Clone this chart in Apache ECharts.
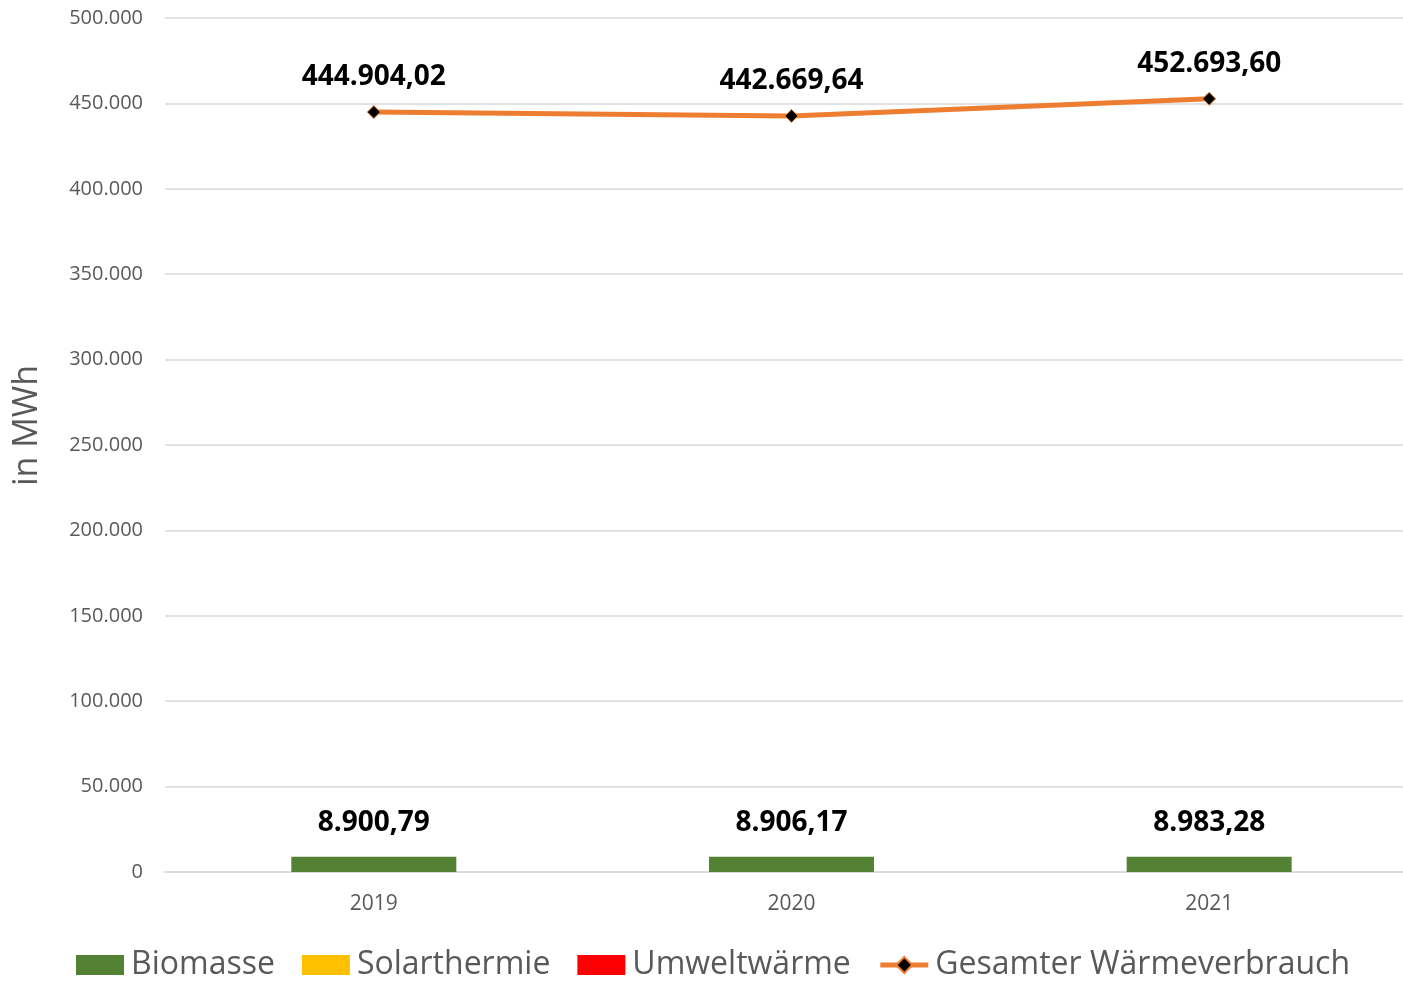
<!DOCTYPE html>
<html><head><meta charset="utf-8">
<script src="https://cdn.jsdelivr.net/npm/echarts@6/dist/echarts.min.js"></script>
<style>html,body{margin:0;padding:0;background:#fff;overflow:hidden;width:1403px;height:982px}#c{width:1418px;height:982px}</style>
</head><body><div id="c"></div>
<script>
const categories = ['2019', '2020', '2021'];
const biomasse = [8900.79, 8906.17, 8983.28];
const solarthermie = [0, 0, 0];
const umweltwaerme = [0, 0, 0];
const gesamt = [444904.02, 442669.64, 452693.60];
const yTicks = [0, 50000, 100000, 150000, 200000, 250000, 300000, 350000, 400000, 450000, 500000];
const yAxisTitle = 'in MWh';

function de(v, dec) {
  const parts = v.toFixed(dec).split('.');
  parts[0] = parts[0].replace(/\B(?=(\d{3})+(?!\d))/g, '.');
  return parts.length > 1 ? parts[0] + ',' + parts[1] : parts[0];
}
const chart = echarts.init(document.getElementById('c'), null, {renderer: 'canvas'});
const lblStyle = {show: true, fontFamily: 'Open Sans', fontWeight: 'bold', fontSize: 28, color: '#000'};
chart.setOption({
  animation: false,
  textStyle: {fontFamily: 'Open Sans'},
  grid: {left: 165, right: 0, top: 18, bottom: 110, containLabel: false},
  graphic: [{
    type: 'text', left: 10, top: 365,
    style: {text: yAxisTitle, fill: '#595959', font: '34px "Open Sans"'},
    rotation: Math.PI / 2, originX: 0, originY: 0,
    silent: true
  }],
  xAxis: {
    type: 'category', data: categories,
    axisLine: {lineStyle: {color: '#d9d9d9', width: 1.5}},
    axisTick: {show: false},
    axisLabel: {color: '#595959', fontSize: 21, margin: 22, fontFamily: 'Open Sans'}
  },
  yAxis: {
    type: 'value', min: yTicks[0], max: yTicks[yTicks.length - 1], interval: 50000,
    axisLine: {show: false}, axisTick: {show: false},
    splitLine: {lineStyle: {color: '#d9d9d9', width: 1.5}},
    axisLabel: {color: '#595959', fontSize: 20, margin: 22, fontFamily: 'Open Sans',
      formatter: v => de(v, 0)}
  },
  legend: {
    top: 949, left: 76, padding: 0, itemWidth: 48, itemHeight: 20, itemGap: 27,
    textStyle: {color: '#595959', fontSize: 32, fontFamily: 'Open Sans', padding: [0, 0, 0, 2]},
    lineStyle: {width: 5},
    data: [
      {name: 'Biomasse', icon: 'rect'},
      {name: 'Solarthermie', icon: 'rect'},
      {name: 'Umweltwärme', icon: 'rect'},
      {name: 'Gesamter Wärmeverbrauch'}
    ]
  },
  series: [
    {name: 'Biomasse', type: 'bar', stack: 's', data: biomasse, barWidth: 165,
      itemStyle: {color: '#548235'},
      label: Object.assign({}, lblStyle, {position: 'top', distance: 20, formatter: p => de(p.value, 2)})},
    {name: 'Solarthermie', type: 'bar', stack: 's', data: solarthermie, barWidth: 165,
      itemStyle: {color: '#FFC000'}},
    {name: 'Umweltwärme', type: 'bar', stack: 's', data: umweltwaerme, barWidth: 165,
      itemStyle: {color: '#FF0000'}},
    {name: 'Gesamter Wärmeverbrauch', type: 'line', data: gesamt,
      lineStyle: {color: '#ED7D31', width: 5},
      itemStyle: {color: '#000', borderColor: '#ED7D31', borderWidth: 1},
      symbol: 'diamond', symbolSize: 13,
      label: Object.assign({}, lblStyle, {position: 'top', distance: 14, formatter: p => de(p.value, 2)}),
      z: 5}
  ]
});
</script></body></html>
